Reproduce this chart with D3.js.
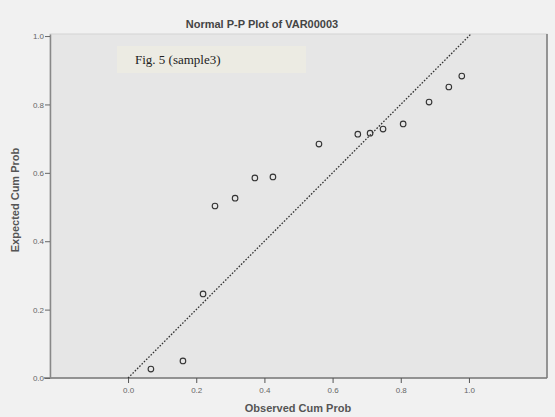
<!DOCTYPE html>
<html><head><meta charset="utf-8">
<script src="https://cdn.jsdelivr.net/npm/d3@7"></script>
<style>html,body{margin:0;padding:0;background:#f1f1f1;}svg{display:block;}</style>
</head><body>
<script>
const title = "Normal P-P Plot of VAR00003";
const xTitle = "Observed Cum Prob";
const yTitle = "Expected Cum Prob";
const figLabel = "Fig. 5 (sample3)";
const xTicks = [0.0, 0.2, 0.4, 0.6, 0.8, 1.0];
const yTicks = [0.0, 0.2, 0.4, 0.6, 0.8, 1.0];
const observed = [0.067,0.161,0.220,0.255,0.314,0.372,0.425,0.560,0.674,0.710,0.748,0.807,0.883,0.941,0.979];
const expected = [0.026,0.050,0.246,0.503,0.526,0.585,0.588,0.684,0.713,0.716,0.728,0.743,0.807,0.851,0.883];

const W=555,H=417;
const svg=d3.select("body").append("svg").attr("width",W).attr("height",H);
svg.append("rect").attr("width",W).attr("height",H).attr("fill","#f1f1f1");

const x=d3.scaleLinear().domain([-0.229,1.229]).range([50,547]);
const y=d3.scaleLinear().domain([0,1.006]).range([378,34]);

// plot area
svg.append("rect").attr("x",x.range()[0]).attr("y",y.range()[1])
  .attr("width",x.range()[1]-x.range()[0]).attr("height",y.range()[0]-y.range()[1])
  .attr("fill","#e6e6e6").attr("stroke","#d4d4d4").attr("stroke-width",1);
svg.append("line").attr("x1",x.range()[1]).attr("x2",x.range()[1]).attr("y1",y.range()[1]).attr("y2",y.range()[0])
  .attr("stroke","#7a7a7a").attr("stroke-width",1.5);

// axes
const xAxis=d3.axisBottom(x).tickValues(xTicks).tickFormat(d3.format(".1f")).tickSize(5).tickSizeOuter(0);
const gx=svg.append("g").attr("transform",`translate(0,${y.range()[0]})`).call(xAxis);
gx.select(".domain").attr("stroke","#777").attr("stroke-width",1.5).attr("d",`M${x.range()[0]-6},0H${x.range()[1]}`);
gx.selectAll(".tick line").attr("stroke","#555");
gx.selectAll("text").attr("fill","#666").style("font-family","Arial, Liberation Sans, sans-serif").style("font-size","8px").attr("dy","0.9em");

const yAxis=d3.axisLeft(y).tickValues(yTicks).tickFormat(d3.format(".1f")).tickSize(5).tickSizeOuter(0);
const gy=svg.append("g").attr("transform",`translate(${x.range()[0]},0)`).call(yAxis);
gy.select(".domain").attr("stroke","#888").attr("stroke-width",1.5);
gy.selectAll(".tick line").attr("stroke","#666");
gy.selectAll("text").attr("fill","#666").style("font-family","Arial, Liberation Sans, sans-serif").style("font-size","8px").attr("x",-6);

// diagonal reference line
svg.append("line").attr("x1",x(0)).attr("y1",y(0)).attr("x2",x(1.006)).attr("y2",y(1.006))
  .attr("stroke","#333").attr("stroke-width",1.3).attr("stroke-dasharray","1.6,1.6");

// points
svg.append("g").selectAll("circle").data(observed.map((o,i)=>[o,expected[i]])).join("circle")
  .attr("cx",d=>x(d[0])).attr("cy",d=>y(d[1])).attr("r",2.8)
  .attr("fill","none").attr("stroke","#333").attr("stroke-width",1.1);

// titles
svg.append("text").attr("x",262).attr("y",28).attr("text-anchor","middle")
  .style("font-family","Arial, Liberation Sans, sans-serif").style("font-size","11px").style("font-weight","bold")
  .attr("fill","#444").text(title);
svg.append("text").attr("x",298).attr("y",412).attr("text-anchor","middle")
  .style("font-family","Arial, Liberation Sans, sans-serif").style("font-size","11px").style("font-weight","bold")
  .attr("fill","#555").text(xTitle);
svg.append("text").attr("transform","translate(19,200) rotate(-90)").attr("text-anchor","middle")
  .style("font-family","Arial, Liberation Sans, sans-serif").style("font-size","11px").style("font-weight","bold")
  .attr("fill","#555").text(yTitle);

// figure label box
svg.append("rect").attr("x",117).attr("y",46).attr("width",189).attr("height",27).attr("fill","#ecebe3");
svg.append("text").attr("x",135).attr("y",64)
  .style("font-family","'Liberation Serif', 'Times New Roman', serif").style("font-size","13px")
  .attr("fill","#222").text(figLabel);
</script>
</body></html>
